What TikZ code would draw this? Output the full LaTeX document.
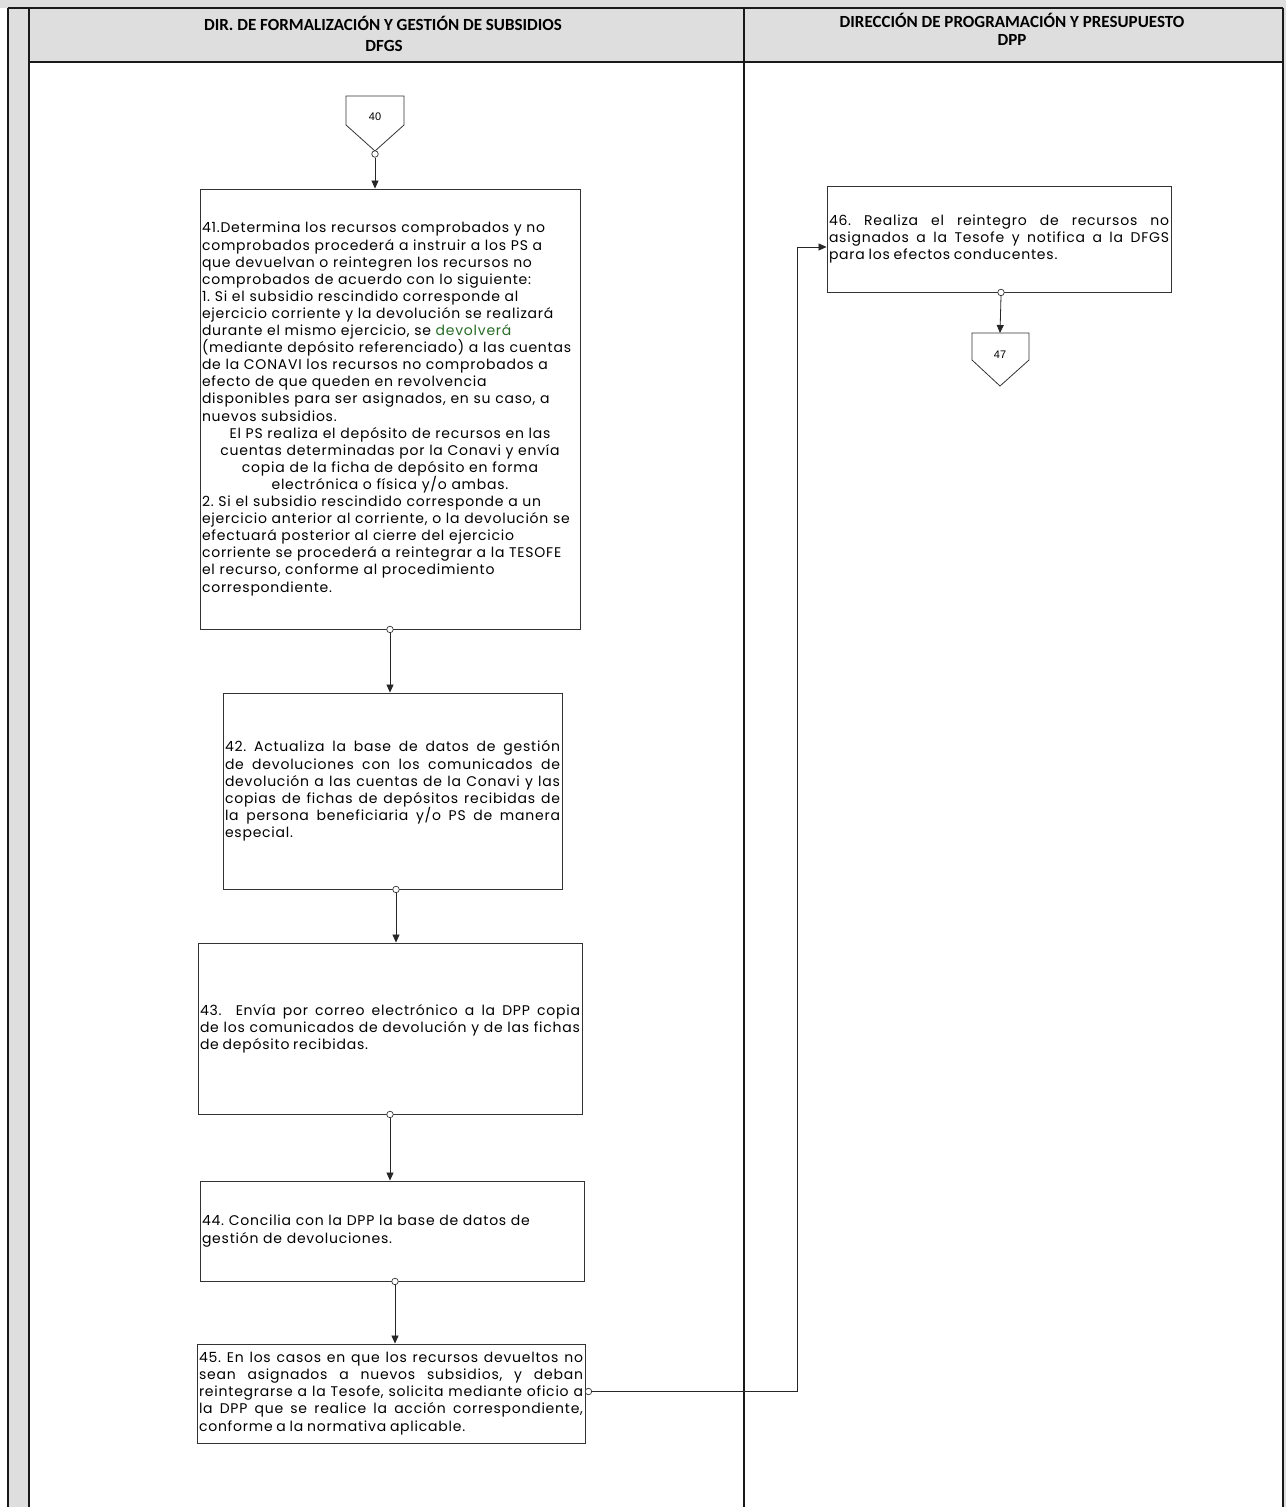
\documentclass[tikz,border=0pt]{standalone}
\usepackage{fontspec}
\setmainfont{Poppins}
\newfontfamily\hdrfont{Carlito}
\newfontfamily\lblfont{Liberation Sans}
\newfontfamily\bodyfont[LetterSpace=5.5]{Poppins}
\usetikzlibrary{arrows.meta,calc}
\definecolor{hdrgray}{gray}{0.87}
\definecolor{greentxt}{rgb}{0.15,0.42,0.15}
\tikzset{
  lane/.style={draw=black!90, line width=1.3pt},
  box/.style={draw=black!80, line width=0.9pt, inner xsep=2pt, inner ysep=0pt,
    font=\bodyfont\fontsize{14}{17.1}\selectfont\frenchspacing},
  jbox/.style={box, align=justify},
  port/.style={draw=black!80, fill=white, circle, inner sep=0pt, minimum size=6.5pt, line width=0.7pt},
  flow/.style={draw=black!85, line width=0.8pt, -{Triangle[length=8pt,width=7pt]}},
  conn/.style={draw=black!80, line width=0.8pt},
  hdr/.style={font=\hdrfont\bfseries\fontsize{17}{20}\selectfont, inner sep=0pt},
  lbl/.style={font=\lblfont\fontsize{11}{13}\selectfont, inner sep=0pt}
}
\newcommand{\jpar}{\parindent=0pt\leftskip=0pt\rightskip=0pt\hyphenpenalty=10000\frenchspacing\spaceskip=0.27em plus 3em minus 0.05em\relax}
\begin{document}
\begin{tikzpicture}[x=1pt,y=-1pt]
\useasboundingbox (0,0) rectangle (1286,1507);
% background strips
\fill[hdrgray] (0,0) rectangle (1286,8);
\fill[hdrgray] (8,0) rectangle (29,1507);
\fill[hdrgray] (29,8) rectangle (1283,62);
\fill[hdrgray] (1283,0) rectangle (1286,1507);
% lane frame
\draw[lane] (8,8) -- (1283,8);
\draw[lane] (29,62) -- (1283,62);
\draw[lane] (8,8) -- (8,1507);
\draw[lane] (29,8) -- (29,1507);
\draw[lane] (744,8) -- (744,1507);
\draw[lane] (1283,8) -- (1283,1507);
% headers
\node[hdr] (h1a) at (383,23) {DIR. DE FORMALIZACIÓN Y GESTIÓN DE SUBSIDIOS};
\node[hdr] (h1b) at (384,46) {DFGS};
\node[hdr] (h2a) at (1012,20) {DIRECCIÓN DE PROGRAMACIÓN Y PRESUPUESTO};
\node[hdr] (h2b) at (1012,40) {DPP};

% off-page connector 40
\node[lbl] (c40) at (375,117) {40};
\draw[conn] ($(c40)+(-29,-21)$) -- ($(c40)+(29,-21)$) -- ($(c40)+(29,8)$) -- ($(c40)+(0,34)$) -- ($(c40)+(-29,8)$) -- cycle;
\node[port] (p40) at ($(c40)+(0,37)$) {};

% box 41
\node[box, minimum width=380pt, minimum height=440pt, text width=376pt] (b41) at (390,409) {\raggedright
41.Determina los recursos comprobados y no\\
comprobados procederá a instruir a los PS a\\
que devuelvan o reintegren los recursos no\\
comprobados de acuerdo con lo siguiente:\\
1. Si el subsidio rescindido corresponde al\\
ejercicio corriente y la devolución se realizará\\
durante el mismo ejercicio, se {\color{greentxt}devolverá}\\
(mediante depósito referenciado) a las cuentas\\
de la CONAVI los recursos no comprobados a\\
efecto de que queden en revolvencia\\
disponibles para ser asignados, en su caso, a\\
nuevos subsidios.\par
{\centering El PS realiza el depósito de recursos en las\\
cuentas determinadas por la Conavi y envía\\
copia de la ficha de depósito en forma\\
electrónica o física y/o ambas.\par}
2. Si el subsidio rescindido corresponde a un\\
ejercicio anterior al corriente, o la devolución se\\
efectuará posterior al cierre del ejercicio\\
corriente se procederá a reintegrar a la TESOFE\\
el recurso, conforme al procedimiento\\
correspondiente.\par};

% box 42
\node[jbox, minimum width=339pt, minimum height=196pt, text width=335pt] (b42) at (392.5,791) {\jpar
42. Actualiza la base de datos de gestión\linebreak
de devoluciones con los comunicados de\linebreak
devolución a las cuentas de la Conavi y las\linebreak
copias de fichas de depósitos recibidas de\linebreak
la persona beneficiaria y/o PS de manera\linebreak
especial.\par};

% box 43
\node[jbox, minimum width=384pt, minimum height=171pt, text width=380pt] (b43) at (390,1028.5) {\jpar
43.\ \ Envía por correo electrónico a la DPP copia\linebreak
de los comunicados de devolución y de las fichas\linebreak
de depósito recibidas.\par};

% box 44
\node[box, minimum width=384pt, minimum height=100pt, text width=380pt] (b44) at (392,1231) {\raggedright
44. Concilia con la DPP la base de datos de\\
gestión de devoluciones.\par};

% box 45
\node[jbox, minimum width=388pt, minimum height=99pt, text width=384pt] (b45) at (391,1393.5) {\jpar
45. En los casos en que los recursos devueltos no\linebreak
sean asignados a nuevos subsidios, y deban\linebreak
reintegrarse a la Tesofe, solicita mediante oficio a\linebreak
la DPP que se realice la acción correspondiente,\linebreak
conforme a la normativa aplicable.\par};

% box 46
\node[jbox, minimum width=344pt, minimum height=106pt, text width=340pt] (b46) at (999,239) {\jpar
46. Realiza el reintegro de recursos no\linebreak
asignados a la Tesofe y notifica a la DFGS\linebreak
para los efectos conducentes.\par};

% off-page connector 47
\node[lbl] (c47) at (1000,355) {47};
\draw[conn] ($(c47)+(-28,-22)$) -- ($(c47)+(29,-22)$) -- ($(c47)+(29,5)$) -- ($(c47)+(0,31)$) -- ($(c47)+(-28,5)$) -- cycle;

% ports
\node[port] (p41) at (b41.south) {};
\node[port] (p42) at ($(b42.south)+(3.5,0)$) {};
\node[port] (p43) at (b43.south) {};
\node[port] (p44) at ($(b44.south)+(3,0)$) {};
\node[port] (p45) at ($(b45.east)+(3,-2)$) {};
\node[port] (p46) at ($(b46.south)+(2,0)$) {};
\coordinate (k2) at (797,247);

% flows
\draw[flow] (p40.south) -- (p40.south |- b41.north);
\draw[flow] (p41.south) -- (p41.south |- b42.north);
\draw[flow] (p42.south) -- (p42.south |- b43.north);
\draw[flow] (p43.south) -- (p43.south |- b44.north);
\draw[flow] (p44.south) -- (p44.south |- b45.north);
\draw[flow] (p45.east) -- (p45.east -| k2) -- (k2) -- (k2 -| b46.west);
\draw[flow] (p46.south) -- ($(c47)+(0,-22)$);
\end{tikzpicture}
\end{document}
